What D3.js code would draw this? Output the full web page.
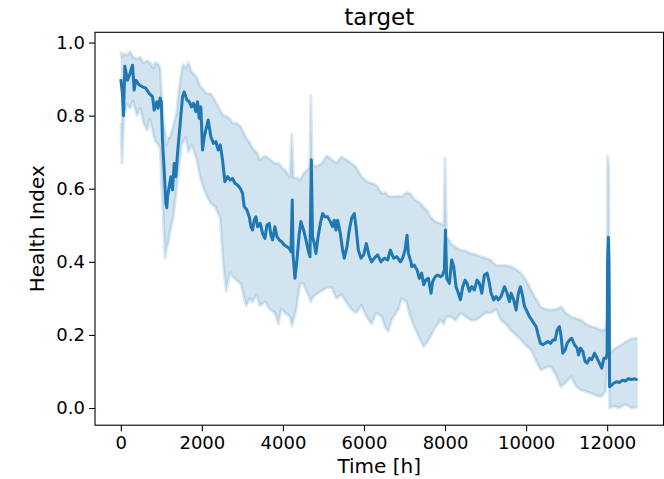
<!DOCTYPE html>
<html>
<head>
<meta charset="utf-8">
<script src="https://cdn.jsdelivr.net/npm/d3@7"></script>
<style>
  html, body { margin: 0; padding: 0; background: #fff; }
  svg { display: block; font-family: "DejaVu Sans", sans-serif; }
</style>
</head>
<body>
<div id="chart"></div>
<script>
// Mean health index trace (time in hours, value)
const timeH = [0,40,66,99,165,230,288,329,370,453,535,617,700,782,823,888,920,970,1000,1028,1070,1111,1135,1152,1193,1234,1276,1317,1358,1399,1465,1523,1564,1630,1687,1745,1794,1852,1893,1934,1975,2016,2058,2156,2222,2288,2346,2403,2453,2510,2568,2634,2700,2757,2815,2880,2947,3004,3045,3111,3169,3210,3251,3292,3333,3374,3440,3498,3556,3605,3662,3704,3745,3802,3852,3909,3967,4033,4099,4156,4198,4230,4250,4296,4346,4403,4444,4510,4568,4626,4667,4700,4730,4774,4815,4856,4922,4979,5037,5103,5169,5226,5267,5309,5350,5415,5473,5514,5580,5638,5695,5761,5802,5860,5926,5992,6058,6132,6189,6255,6337,6420,6502,6584,6650,6732,6815,6897,6955,7012,7062,7095,7160,7177,7243,7309,7366,7424,7473,7531,7588,7654,7695,7753,7819,7885,7942,7984,8010,8040,8107,8165,8214,8271,8329,8379,8436,8494,8543,8601,8658,8724,8790,8848,8906,8971,9037,9078,9136,9202,9259,9317,9383,9465,9531,9588,9630,9695,9753,9810,9860,9918,9959,10025,10082,10140,10189,10247,10288,10354,10412,10469,10535,10601,10658,10716,10765,10823,10864,10905,10963,11012,11070,11127,11193,11259,11292,11342,11399,11457,11506,11564,11621,11687,11753,11810,11868,11918,11975,12000,12010,12030,12045,12060,12100,12150,12230,12300,12380,12450,12520,12600,12680,12750];
const health = [0.90,0.86,0.80,0.935,0.897,0.916,0.938,0.87,0.897,0.884,0.879,0.875,0.861,0.852,0.815,0.838,0.82,0.848,0.838,0.733,0.651,0.561,0.548,0.578,0.605,0.633,0.597,0.669,0.633,0.697,0.779,0.852,0.865,0.843,0.838,0.824,0.834,0.811,0.838,0.793,0.824,0.706,0.742,0.788,0.742,0.724,0.729,0.706,0.72,0.679,0.619,0.633,0.624,0.628,0.615,0.61,0.601,0.587,0.551,0.542,0.523,0.496,0.487,0.514,0.523,0.496,0.505,0.478,0.464,0.50,0.505,0.473,0.46,0.496,0.469,0.46,0.455,0.446,0.441,0.437,0.428,0.569,0.42,0.355,0.405,0.478,0.51,0.487,0.46,0.43,0.414,0.679,0.469,0.45,0.423,0.46,0.505,0.532,0.523,0.523,0.51,0.496,0.514,0.487,0.514,0.478,0.432,0.41,0.441,0.487,0.519,0.532,0.496,0.432,0.41,0.419,0.45,0.414,0.40,0.41,0.419,0.40,0.41,0.405,0.432,0.41,0.414,0.40,0.41,0.432,0.473,0.423,0.40,0.387,0.391,0.378,0.355,0.369,0.337,0.351,0.355,0.314,0.346,0.359,0.364,0.359,0.364,0.378,0.487,0.355,0.341,0.405,0.387,0.332,0.314,0.296,0.332,0.35,0.341,0.319,0.332,0.323,0.35,0.341,0.314,0.364,0.369,0.35,0.314,0.296,0.305,0.296,0.305,0.332,0.314,0.291,0.314,0.296,0.268,0.314,0.332,0.305,0.278,0.264,0.25,0.241,0.232,0.223,0.204,0.177,0.173,0.177,0.182,0.177,0.186,0.186,0.213,0.223,0.195,0.15,0.159,0.177,0.186,0.191,0.173,0.164,0.145,0.164,0.155,0.127,0.123,0.136,0.132,0.15,0.136,0.123,0.109,0.136,0.136,0.15,0.40,0.467,0.40,0.058,0.062,0.067,0.072,0.07,0.076,0.074,0.08,0.078,0.08,0.077];

// Uncertainty band (time in hours, upper, lower)
const bandTime = [0,30,80,150,230,300,400,480,560,650,720,800,850,930,970,1010,1050,1090,1130,1170,1210,1290,1380,1420,1500,1540,1600,1670,1750,1870,1960,2050,2120,2220,2330,2450,2530,2600,2700,2760,2850,2960,3090,3190,3250,3350,3430,3560,3680,3800,3890,3960,4060,4170,4220,4260,4330,4420,4500,4580,4660,4690,4720,4800,4960,5080,5200,5320,5440,5560,5690,5800,5940,6060,6190,6300,6440,6520,6600,6680,6850,6930,7050,7140,7250,7390,7470,7560,7640,7760,7890,7970,8000,8040,8140,8260,8390,8510,8630,8750,8880,9000,9130,9260,9380,9500,9620,9750,9870,10000,10120,10240,10360,10480,10610,10740,10860,10980,11110,11230,11350,11480,11600,11720,11850,11960,12000,12010,12040,12060,12150,12300,12450,12600,12750];
const bandUpper = [0.975,0.96,0.97,0.965,0.975,0.96,0.955,0.96,0.945,0.95,0.945,0.93,0.945,0.94,0.93,0.85,0.78,0.76,0.72,0.74,0.74,0.77,0.81,0.86,0.925,0.94,0.93,0.945,0.92,0.906,0.88,0.87,0.86,0.86,0.84,0.815,0.80,0.80,0.79,0.78,0.78,0.77,0.74,0.725,0.71,0.70,0.68,0.69,0.68,0.67,0.67,0.66,0.65,0.633,0.75,0.63,0.63,0.624,0.64,0.65,0.66,0.855,0.67,0.66,0.67,0.69,0.68,0.67,0.687,0.68,0.67,0.66,0.633,0.62,0.615,0.61,0.587,0.59,0.58,0.578,0.58,0.578,0.59,0.587,0.57,0.56,0.55,0.54,0.523,0.51,0.505,0.50,0.685,0.47,0.45,0.44,0.432,0.43,0.423,0.42,0.414,0.41,0.405,0.39,0.39,0.39,0.387,0.38,0.369,0.35,0.323,0.30,0.277,0.27,0.268,0.27,0.277,0.26,0.25,0.245,0.241,0.23,0.223,0.22,0.213,0.215,0.25,0.69,0.66,0.15,0.16,0.17,0.18,0.19,0.19];
const bandLower = [0.78,0.67,0.80,0.83,0.82,0.84,0.80,0.82,0.78,0.76,0.79,0.75,0.73,0.72,0.71,0.60,0.52,0.41,0.44,0.45,0.48,0.52,0.60,0.65,0.72,0.73,0.74,0.70,0.72,0.68,0.63,0.60,0.58,0.56,0.55,0.52,0.39,0.32,0.37,0.36,0.35,0.34,0.28,0.30,0.29,0.31,0.28,0.29,0.27,0.26,0.23,0.27,0.26,0.25,0.225,0.24,0.27,0.34,0.34,0.32,0.30,0.29,0.30,0.31,0.32,0.33,0.33,0.30,0.31,0.29,0.27,0.26,0.28,0.25,0.23,0.26,0.25,0.22,0.21,0.24,0.27,0.30,0.29,0.25,0.22,0.186,0.168,0.18,0.195,0.22,0.241,0.23,0.24,0.25,0.25,0.24,0.26,0.25,0.241,0.24,0.25,0.26,0.26,0.27,0.24,0.23,0.213,0.20,0.186,0.17,0.159,0.13,0.104,0.11,0.113,0.09,0.058,0.07,0.086,0.06,0.049,0.045,0.04,0.035,0.031,0.045,0.10,0.38,0.36,0.0,0.005,0.0,0.01,0.0,0.002];

const xTicks = [0, 2000, 4000, 6000, 8000, 10000, 12000];
const yTicks = [0.0, 0.2, 0.4, 0.6, 0.8, 1.0];

const W = 664, H = 479;
const svg = d3.select("#chart").append("svg")
  .attr("width", W)
  .attr("height", H);

svg.append("rect").attr("width", W).attr("height", H).attr("fill", "#fff");

// axes box in pixels
const plotLeft = 95, plotRight = 663.5, plotTop = 32.3, plotBottom = 425.2;

const x = d3.scaleLinear().domain([-637, 13390]).range([plotLeft, plotRight]);
const y = d3.scaleLinear().domain([-0.047, 1.028]).range([plotBottom, plotTop]);

const main = timeH.map((t, i) => ({ t: t, v: health[i] }));
const band = bandTime.map((t, i) => ({ t: t, hi: bandUpper[i], lo: bandLower[i] }));

const blue = "#1f77b4";

// shaded band
svg.append("path")
  .datum(band)
  .attr("fill", blue)
  .attr("fill-opacity", 0.2)
  .attr("d", d3.area().x(d => x(d.t)).y0(d => y(d.lo)).y1(d => y(d.hi)));

// band edges drawn a little darker
const edge = key => d3.line().x(d => x(d.t)).y(d => y(d[key]));
["hi", "lo"].forEach(k => {
  svg.append("path")
    .datum(band)
    .attr("fill", "none")
    .attr("stroke", blue)
    .attr("stroke-opacity", 0.16)
    .attr("stroke-width", 3)
    .attr("stroke-linejoin", "round")
    .attr("d", edge(k));
});

// mean line
svg.append("path")
  .datum(main)
  .attr("fill", "none")
  .attr("stroke", blue)
  .attr("stroke-width", 3)
  .attr("stroke-linejoin", "round")
  .attr("d", d3.line().x(d => x(d.t)).y(d => y(d.v)));

// X axis
const gx = svg.append("g")
  .attr("transform", "translate(0," + plotBottom + ")")
  .call(d3.axisBottom(x).tickValues(xTicks).tickSize(6).tickPadding(5).tickFormat(d3.format("d")));
gx.select(".domain").remove();
gx.selectAll("line").attr("stroke", "#000").attr("stroke-width", 1.1);
gx.selectAll("text").attr("font-size", 18).attr("fill", "#000")
  .attr("font-family", "DejaVu Sans, sans-serif");

// Y axis
const gy = svg.append("g")
  .attr("transform", "translate(" + plotLeft + ",0)")
  .call(d3.axisLeft(y).tickValues(yTicks).tickSize(6).tickPadding(4).tickFormat(d3.format(".1f")));
gy.select(".domain").remove();
gy.selectAll("line").attr("stroke", "#000").attr("stroke-width", 1.1);
gy.selectAll("text").attr("font-size", 18).attr("fill", "#000")
  .attr("font-family", "DejaVu Sans, sans-serif");

// frame
svg.append("rect")
  .attr("x", plotLeft).attr("y", plotTop)
  .attr("width", plotRight - plotLeft).attr("height", plotBottom - plotTop)
  .attr("fill", "none")
  .attr("stroke", "#000")
  .attr("stroke-width", 1.1);

// title and labels
svg.append("text")
  .attr("x", (plotLeft + plotRight) / 2).attr("y", 24.5)
  .attr("text-anchor", "middle")
  .attr("font-size", 23)
  .text("target");

svg.append("text")
  .attr("x", (plotLeft + plotRight) / 2).attr("y", 472.5)
  .attr("text-anchor", "middle")
  .attr("font-size", 20)
  .text("Time [h]");

svg.append("text")
  .attr("transform", "translate(44," + ((plotTop + plotBottom) / 2) + ") rotate(-90)")
  .attr("text-anchor", "middle")
  .attr("font-size", 20)
  .text("Health Index");
</script>
</body>
</html>
